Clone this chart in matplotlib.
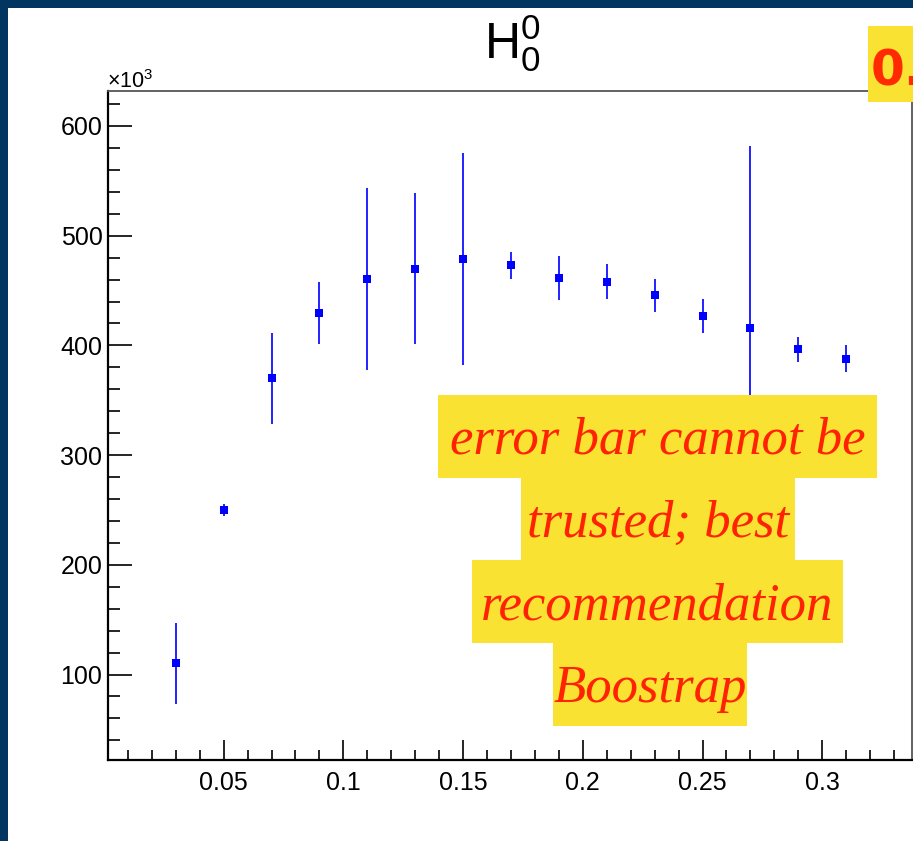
import matplotlib
matplotlib.use("Agg")
import matplotlib.pyplot as plt
from matplotlib.patches import Rectangle
from matplotlib.ticker import MultipleLocator, FixedLocator, FixedFormatter

# ---------------- data (y in units of 10^3) ----------------
x_centers = [0.03, 0.05, 0.07, 0.09, 0.11, 0.13, 0.15, 0.17, 0.19, 0.21, 0.23, 0.25, 0.27, 0.29, 0.31]
y_values = [110.3, 250.1, 369.9, 429.5, 460.5, 469.9, 478.7, 473.0, 461.4, 458.0, 445.6, 427.0, 415.5, 396.6, 387.8]
y_errors = [37.1, 5.5, 41.5, 28.2, 83.0, 68.9, 96.7, 12.5, 19.7, 15.9, 15.2, 15.4, 166.0, 11.4, 12.3]
x_ticks = [0.05, 0.1, 0.15, 0.2, 0.25, 0.3]
x_tick_labels = ["0.05", "0.1", "0.15", "0.2", "0.25", "0.3"]
y_ticks = [100, 200, 300, 400, 500, 600]
y_tick_labels = ["100", "200", "300", "400", "500", "600"]
note_lines = ["error bar cannot be", "trusted; best", "recommendation", "Boostrap"]
corner_label = "0."

plt.rcParams['mathtext.fontset'] = 'custom'
plt.rcParams['mathtext.rm'] = 'Liberation Sans'
plt.rcParams['mathtext.it'] = 'Liberation Sans:italic'
plt.rcParams['font.family'] = ['Liberation Sans', 'DejaVu Sans']

W, H = 913, 841
fig = plt.figure(figsize=(W / 100, H / 100), dpi=100)
fig.patch.set_facecolor('white')

def fx(x):
    return x / W

def fy(y):
    return 1 - y / H

ax = fig.add_axes([fx(108), fy(760), fx(912) - fx(108), fy(91) - fy(760)])
ax.errorbar(x_centers, y_values, yerr=y_errors, fmt='s', color='#0000ff',
            ecolor='#1010ff', elinewidth=1.3, capsize=1.8, capthick=1.3,
            markersize=6.2, markeredgewidth=0)
ax.set_xlim(0.0017, 0.3375)
ax.set_ylim(22.1, 631.9)

ax.xaxis.set_major_locator(FixedLocator(x_ticks))
ax.xaxis.set_major_formatter(FixedFormatter(x_tick_labels))
ax.xaxis.set_minor_locator(MultipleLocator(0.01))
ax.yaxis.set_major_locator(FixedLocator(y_ticks))
ax.yaxis.set_major_formatter(FixedFormatter(y_tick_labels))
ax.yaxis.set_minor_locator(MultipleLocator(20))

ax.tick_params(axis='both', which='both', direction='in', top=False, right=False,
               colors='black', width=1.2)
ax.tick_params(axis='x', which='major', length=14.4, pad=8, labelsize=18)
ax.tick_params(axis='x', which='minor', length=7.2)
ax.tick_params(axis='y', which='major', length=17.3, pad=4, labelsize=18)
ax.tick_params(axis='y', which='minor', length=8.6)
for lab in ax.get_xticklabels() + ax.get_yticklabels():
    lab.set_fontfamily('Liberation Sans')

for s in ['left', 'bottom']:
    ax.spines[s].set_linewidth(1.6)
    ax.spines[s].set_color('black')
for s in ['top', 'right']:
    ax.spines[s].set_linewidth(1.3)
    ax.spines[s].set_color('#555555')

# title and exponent
fig.text(fx(512), fy(59), r'$\mathrm{H}_{0}^{0}$', fontsize=36, ha='center',
         va='baseline', color='black')
fig.text(fx(107), fy(88), r'$\times$10$^{3}$', fontsize=15.5, ha='left', va='baseline',
         color='black')

# yellow corner label (cut by the right edge, as in the source slide)
fig.patches.append(Rectangle((fx(868), fy(102)), fx(913) - fx(868), fy(26) - fy(102),
                             transform=fig.transFigure, facecolor='#f9e231',
                             edgecolor='none', zorder=5))
fig.text(fx(871), fy(85), corner_label, fontsize=35, fontweight='bold',
         family='DejaVu Sans', color='#ff2a00', ha='left', va='baseline', zorder=6)

# highlighted note
boxes = [(438, 877, 395, 478), (521, 795, 478, 560), (472, 843, 560, 643), (553, 747, 643, 726)]
baselines = [454, 537, 619, 702]
for (x0, x1, y0, y1), bl, line in zip(boxes, baselines, note_lines):
    fig.patches.append(Rectangle((fx(x0), fy(y1)), fx(x1) - fx(x0), fy(y0) - fy(y1),
                                 transform=fig.transFigure, facecolor='#f9e231',
                                 edgecolor='none', zorder=5))
    fig.text(fx((x0 + x1) / 2), fy(bl), line, fontsize=38, family='Liberation Serif',
             style='italic', color='#ff2200', ha='center', va='baseline', zorder=6)

# dark frame of the slide
border = '#02355f'
fig.patches.append(Rectangle((0, fy(8)), 1, fy(0) - fy(8), transform=fig.transFigure,
                             facecolor=border, edgecolor='none', zorder=7))
fig.patches.append(Rectangle((0, 0), fx(8), 1, transform=fig.transFigure,
                             facecolor=border, edgecolor='none', zorder=7))

fig.savefig('out.png', dpi=100)
